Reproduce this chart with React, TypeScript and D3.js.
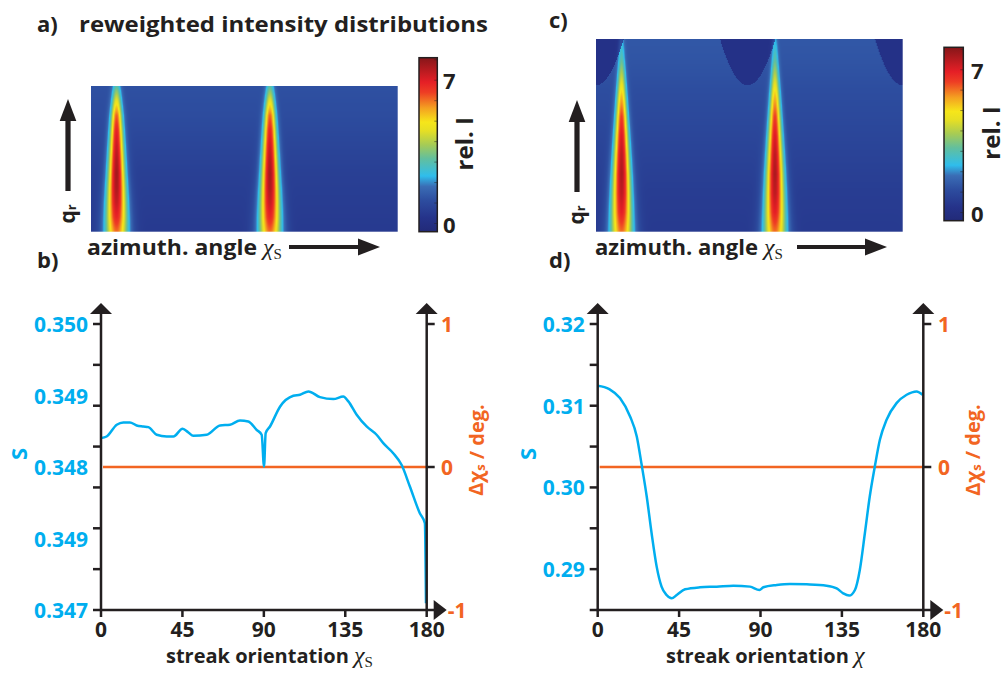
import React, { useMemo } from "react";
import * as d3 from "d3";

// ---------- data ----------
// panel b: streak orientation (deg) vs S
const bChi = [0, 3.1, 8.7, 12.3, 16, 19.7, 23.4, 26.2, 30.8, 36.3, 40, 45.1, 48.3, 51, 58.4, 65.8, 71.3, 76.8, 81.4, 86, 88.8, 90.1, 91, 93.4, 99, 106.3, 110, 114.6, 121, 128.4, 133.9, 136.7, 141.3, 146.8, 152.3, 156, 161.5, 166.1, 170.7, 176.2, 179, 179.6];
const bS = [0.348803, 0.34882, 0.348943, 0.348967, 0.348967, 0.348936, 0.348925, 0.348918, 0.348838, 0.34882, 0.34882, 0.348901, 0.348862, 0.348827, 0.348838, 0.348936, 0.348943, 0.348988, 0.348978, 0.34889, 0.348838, 0.348505, 0.348855, 0.348925, 0.349135, 0.349247, 0.349258, 0.349293, 0.349233, 0.349212, 0.34924, 0.349188, 0.349048, 0.348925, 0.348838, 0.34875, 0.348645, 0.348523, 0.348295, 0.348015, 0.34791, 0.34707];
const bLeftLabels = ["0.347", "0.349", "0.348", "0.349", "0.350"];

// panel d: streak orientation (deg) vs S
const dChi = [0, 6.4, 12.3, 17.9, 21.6, 24.3, 27.1, 29.8, 32.6, 35.3, 38.1, 40.9, 43.7, 48.3, 56.6, 65.8, 75, 84.2, 89.4, 91.6, 99, 106.3, 115.5, 126.5, 132.1, 135.7, 139, 142.2, 144.9, 147.7, 150.4, 153.2, 156, 159.7, 165.2, 170.8, 176.3, 179.6];
const dS = [0.31245, 0.31204, 0.31093, 0.30869, 0.30624, 0.30277, 0.29889, 0.29439, 0.29031, 0.28786, 0.28684, 0.28643, 0.28684, 0.28753, 0.28778, 0.28786, 0.28798, 0.28786, 0.28745, 0.28778, 0.28806, 0.28819, 0.28814, 0.28798, 0.28765, 0.28704, 0.28676, 0.28745, 0.2899, 0.29439, 0.29889, 0.30256, 0.30583, 0.30828, 0.31032, 0.31134, 0.31175, 0.31134];
const dLeftTicks = [0.285, 0.29, 0.295, 0.3, 0.305, 0.31, 0.315, 0.32];
const dLeftLabels = [0.29, 0.3, 0.31, 0.32];

const xTicks = [0, 45, 90, 135, 180];
const rightLabels = [1, 0, -1];

// heatmaps: streak positions (azimuth deg), row profiles over q (fraction from bottom)
const streakAzimuths = [30, 210];
const qFrac = [0, 0.1, 0.2, 0.3, 0.4, 0.5, 0.6, 0.7, 0.8, 0.9, 1.0];
const peakTopA = [6.0, 6.8, 7.3, 7.6, 7.7, 7.5, 7.2, 6.8, 6.1, 4.6, 3.0];
const sigmaA = [10, 9.3, 8.6, 7.9, 7.2, 6.6, 6.0, 5.4, 4.8, 4.2, 3.6];
const bgA = [0.5, 0.55, 0.6, 0.65, 0.7, 0.8, 0.9, 1.0, 1.1, 1.15, 1.2];
const peakTopC = [6.0, 6.9, 7.4, 7.6, 7.4, 7.0, 6.4, 5.4, 4.2, 3.0, 2.2];
const sigmaC = [10, 9, 8.2, 7.4, 6.6, 5.8, 5.0, 4.3, 3.6, 3.0, 2.5];
const bgC = [0.5, 0.55, 0.6, 0.7, 0.8, 0.9, 1.0, 1.1, 1.2, 1.3, 1.35];
const darkCentersC = [0, 178, 360];
const darkHalfWidthC = 32.5; // deg, at top edge
const darkDepthC = 0.24; // fraction of height from top
const darkValueC = 0.15;

// colour map (jet-like) stops
const cmapT = [0, 0.08, 0.18, 0.26, 0.32, 0.42, 0.5, 0.58, 0.63, 0.71, 0.8, 0.86, 1];
const cmapColors = ["#222a78", "#25338a", "#2d4d9f", "#3a6db5", "#2fbdec", "#62bf9e", "#a6cb55", "#e6df24", "#f6e61a", "#f4a121", "#ee3e24", "#e51f26", "#861619"];
const cbarDomain = [-0.4, 8.1];
const cbarLabels = [0, 7];

// ---------- styles ----------
const SANS = "'Open Sans', 'DejaVu Sans', sans-serif";
const SERIF = "'Liberation Serif', 'DejaVu Serif', serif";
const BLACK = "#231f20";
const BLUE = "#00aeef";
const ORANGE = "#f26522";

const valToT = d3.scaleLinear().domain(cbarDomain).range([0, 1]).clamp(true);
const colorScale = d3
  .scaleLinear<string>()
  .domain(cmapT)
  .range(cmapColors)
  .interpolate(d3.interpolateRgb)
  .clamp(true);

function makeHeatmap(W: number, H: number, top: number[], sig: number[], bg: number[], dark: boolean) {
  const canvas = document.createElement("canvas");
  canvas.width = W;
  canvas.height = H;
  const ctx = canvas.getContext("2d")!;
  const img = ctx.createImageData(W, H);
  const az = d3.scaleLinear().domain([0, W]).range([0, 360]);
  const qs = d3.scaleLinear().domain([0, H]).range([1, 0]);
  const topS = d3.scaleLinear().domain(qFrac).range(top);
  const sigS = d3.scaleLinear().domain(qFrac).range(sig);
  const bgS = d3.scaleLinear().domain(qFrac).range(bg);
  for (let j = 0; j < H; j++) {
    const q = qs(j + 0.5);
    const t = topS(q), s = sigS(q), b = bgS(q);
    for (let i = 0; i < W; i++) {
      const a = az(i + 0.5);
      let v = b;
      if (dark) {
        for (const c of darkCentersC) {
          const dx = (a - c) / darkHalfWidthC;
          const dy = (1 - q) / darkDepthC;
          if (dx * dx + dy < 1) v = darkValueC;
        }
      }
      for (const p of streakAzimuths) {
        let d = Math.abs(a - p);
        if (d > 180) d = 360 - d;
        v += (t - b) * Math.exp(-0.5 * (d / s) * (d / s));
      }
      const col = d3.rgb(colorScale(valToT(v)));
      const k = (j * W + i) * 4;
      img.data[k] = col.r;
      img.data[k + 1] = col.g;
      img.data[k + 2] = col.b;
      img.data[k + 3] = 255;
    }
  }
  ctx.putImageData(img, 0, 0);
  return canvas.toDataURL();
}

function Heatmap(props: { x: number; y: number; w: number; h: number; top: number[]; sig: number[]; bg: number[]; dark: boolean }) {
  const { x, y, w, h, top, sig, bg, dark } = props;
  const url = useMemo(() => makeHeatmap(Math.round(w), Math.round(h), top, sig, bg, dark), [w, h, top, sig, bg, dark]);
  return <image href={url} x={x} y={y} width={w} height={h} preserveAspectRatio="none" />;
}

function Colorbar(props: { id: string; x: number; y: number; w: number; h: number; labelX: number; titleX: number }) {
  const { id, x, y, w, h, labelX, titleX } = props;
  const s = d3.scaleLinear().domain(cbarDomain).range([y + h, y]);
  const ticks = d3.range(0, 9);
  return (
    <g>
      <defs>
        <linearGradient id={id} x1="0" y1="1" x2="0" y2="0">
          {cmapT.map((t, i) => (
            <stop key={i} offset={t} stopColor={cmapColors[i]} />
          ))}
        </linearGradient>
      </defs>
      <rect x={x} y={y} width={w} height={h} fill={`url(#${id})`} stroke={BLACK} strokeWidth={1.5} />
      {ticks.map((t) => (
        <line key={t} x1={x + w - 3} x2={x + w} y1={s(t)} y2={s(t)} stroke={BLACK} strokeOpacity={0.5} strokeWidth={1} />
      ))}
      {cbarLabels.map((v) => (
        <text key={v} x={labelX} y={s(v)} dominantBaseline="central" fontFamily={SANS} fontWeight={700} fontSize={22} fill={BLACK}>
          {v}
        </text>
      ))}
      <text
        transform={`translate(${titleX},${s(3.9)}) rotate(-90)`}
        textAnchor="middle"
        dominantBaseline="central"
        fontFamily={SANS}
        fontWeight={700}
        fontSize={24}
        fill={BLACK}
      >
        rel. I
      </text>
    </g>
  );
}

function HArrow(props: { x1: number; x2: number; y: number }) {
  const { x1, x2, y } = props;
  const head = 22;
  return (
    <g fill={BLACK}>
      <rect x={x1} y={y - 2} width={x2 - x1 - head + 1} height={4} />
      <path d={`M${x2 - head},${y - 8.5}L${x2},${y}L${x2 - head},${y + 8.5}Z`} />
    </g>
  );
}

function VArrow(props: { x: number; y1: number; y2: number }) {
  const { x, y1, y2 } = props;
  const head = 22;
  return (
    <g fill={BLACK}>
      <rect x={x - 2.6} y={y2 + head - 1} width={5.2} height={y1 - y2 - head + 1} />
      <path d={`M${x - 8.3},${y2 + head}L${x},${y2}L${x + 8.3},${y2 + head}Z`} />
    </g>
  );
}

function AzimuthLabel(props: { x: number; w: number; y: number }) {
  const { x, w, y } = props;
  return (
    <g>
      <text x={x} y={y} fontFamily={SANS} fontWeight={700} fontSize={21} fill={BLACK} textLength={w} lengthAdjust="spacingAndGlyphs">
        azimuth. angle
      </text>
      <text x={x + w + 6} y={y} fontFamily={SERIF} fontStyle="italic" fontSize={24} fill={BLACK}>
        χ<tspan fontStyle="normal" fontSize={15} dy={4}>S</tspan>
      </text>
    </g>
  );
}

function QLabel(props: { x: number; y: number }) {
  const { x, y } = props;
  return (
    <text transform={`translate(${x},${y}) rotate(-90)`} textAnchor="middle" dominantBaseline="central" fontFamily={SANS} fontWeight={700} fontSize={21} fill={BLACK}>
      q<tspan fontSize={13} dy={4}>r</tspan>
    </text>
  );
}

function LinePanel(props: {
  left: number;
  right: number;
  chi: number[];
  s: number[];
  yDomain: [number, number];
  leftTicks: number[];
  leftLabels: { v: number; text: string }[];
  sX: number;
  rightLabelX: number;
  xTitle: string;
  xTitleX: number;
  subscript: boolean;
}) {
  const top = 324, bottom = 610, tip = 303;
  const { left, right, chi, s, yDomain, leftTicks, leftLabels, sX, rightLabelX, xTitle, xTitleX, subscript } = props;
  const x = d3.scaleLinear().domain([0, 180]).range([left, right]);
  const yL = d3.scaleLinear().domain(yDomain).range([bottom, top]);
  const yR = d3.scaleLinear().domain([-1, 1]).range([bottom, top]);
  const line = d3
    .line<number>()
    .x((_, i) => x(chi[i]))
    .y((v) => yL(v))
    .curve(d3.curveMonotoneX);
  return (
    <g>
      <line x1={left + 2} x2={right} y1={yR(0)} y2={yR(0)} stroke={ORANGE} strokeWidth={2.5} />
      <path d={line(s) || ""} fill="none" stroke={BLUE} strokeWidth={2.5} strokeLinejoin="round" />
      <g stroke={BLACK} strokeWidth={2.5} fill="none">
        <line x1={left} x2={left} y1={bottom + 1} y2={tip + 10} />
        <line x1={right} x2={right} y1={bottom} y2={tip + 10} />
        <line x1={left - 1} x2={right + 8} y1={bottom} y2={bottom} />
        {leftTicks.map((v) => (
          <line key={v} x1={left - 8} x2={left} y1={yL(v)} y2={yL(v)} />
        ))}
        {xTicks.map((v) => (
          <line key={v} x1={x(v)} x2={x(v)} y1={bottom} y2={bottom + 7} />
        ))}
        {[1, 0].map((v) => (
          <line key={v} x1={right} x2={right + 8} y1={yR(v)} y2={yR(v)} />
        ))}
      </g>
      <g fill={BLACK}>
        <path d={`M${left - 11},${tip + 11}L${left},${tip}L${left + 11},${tip + 11}Z`} />
        <path d={`M${right - 11},${tip + 11}L${right},${tip}L${right + 11},${tip + 11}Z`} />
        <path d={`M${right + 7},${bottom - 10}L${right + 20},${bottom}L${right + 7},${bottom + 10}Z`} />
      </g>
      {leftLabels.map((l, i) => (
        <text key={i} x={left - 13} y={yL(l.v)} textAnchor="end" dominantBaseline="central" fontFamily={SANS} fontWeight={700} fontSize={21} fill={BLUE}>
          {l.text}
        </text>
      ))}
      {rightLabels.map((v) => (
        <text key={v} x={v === -1 ? right + 21 : rightLabelX} y={yR(v)} dominantBaseline="central" fontFamily={SANS} fontWeight={700} fontSize={21} fill={ORANGE}>
          {v}
        </text>
      ))}
      {xTicks.map((v) => (
        <text key={v} x={x(v)} y={637} textAnchor="middle" fontFamily={SANS} fontWeight={700} fontSize={21} fill={BLACK}>
          {v}
        </text>
      ))}
      <text x={xTitleX} y={663} fontFamily={SANS} fontWeight={700} fontSize={20} fill={BLACK}>
        {xTitle}{" "}
        <tspan fontFamily={SERIF} fontStyle="italic" fontWeight={400} fontSize={24}>χ</tspan>
        {subscript ? (
          <tspan fontFamily={SERIF} fontWeight={400} fontSize={15} dy={4}>S</tspan>
        ) : null}
      </text>
      <text transform={`translate(${sX},454) rotate(-90)`} textAnchor="middle" dominantBaseline="central" fontFamily={SANS} fontWeight={700} fontSize={22} fill={BLUE}>
        S
      </text>
      <text transform={`translate(${right + 49},450) rotate(-90)`} textAnchor="middle" dominantBaseline="central" fontFamily={SANS} fontWeight={700} fontSize={20} fill={ORANGE}>
        Δχ<tspan fontSize={13} dy={4}>s</tspan>
        <tspan dy={-4}> / deg.</tspan>
      </text>
    </g>
  );
}

export default function App() {
  const bLabels = bLeftLabels.map((t, i) => ({ v: 0.347 + i * 0.00075, text: t }));
  const bTicks = d3.range(8).map((i) => 0.347 + (i * 0.003) / 7);
  const dLabels = dLeftLabels.map((v) => ({ v, text: d3.format(".2f")(v) }));
  return (
    <svg width={1005} height={677} style={{ display: "block", position: "absolute", left: 0, top: 0, background: "#fff" }}>
      <text x={37} y={32} fontFamily={SANS} fontWeight={700} fontSize={22} fill={BLACK}>a)</text>
      <text x={79} y={32} fontFamily={SANS} fontWeight={700} fontSize={22} fill={BLACK} textLength={409} lengthAdjust="spacingAndGlyphs">
        reweighted intensity distributions
      </text>
      <text x={37} y={268} fontFamily={SANS} fontWeight={700} fontSize={22} fill={BLACK}>b)</text>
      <text x={549} y={28} fontFamily={SANS} fontWeight={700} fontSize={22} fill={BLACK}>c)</text>
      <text x={549} y={268} fontFamily={SANS} fontWeight={700} fontSize={22} fill={BLACK}>d)</text>

      {/* panel a */}
      <Heatmap x={91} y={86} w={306.7} h={145.7} top={peakTopA} sig={sigmaA} bg={bgA} dark={false} />
      <Colorbar id="cbA" x={419} y={57.7} w={18.3} h={174} labelX={443} titleX={463} />
      <VArrow x={68} y1={191} y2={99} />
      <QLabel x={67} y={214} />
      <AzimuthLabel x={87} w={170} y={255} />
      <HArrow x1={289} x2={380} y={247} />

      {/* panel c */}
      <Heatmap x={596} y={39} w={306.7} h={192.7} top={peakTopC} sig={sigmaC} bg={bgC} dark={true} />
      <Colorbar id="cbC" x={944} y={47.3} w={19.3} h={173.4} labelX={971} titleX={990} />
      <VArrow x={577} y1={192} y2={100} />
      <QLabel x={576} y={215} />
      <AzimuthLabel x={595} w={163} y={255} />
      <HArrow x1={797} x2={887} y={247} />

      {/* panel b */}
      <LinePanel
        left={101}
        right={426.7}
        chi={bChi}
        s={bS}
        yDomain={[0.347, 0.35]}
        leftTicks={bTicks}
        leftLabels={bLabels}
        sX={17.5}
        rightLabelX={441}
        xTitle="streak orientation"
        xTitleX={166}
        subscript={true}
      />
      {/* panel d */}
      <LinePanel
        left={597.7}
        right={923.3}
        chi={dChi}
        s={dS}
        yDomain={[0.285, 0.32]}
        leftTicks={dLeftTicks}
        leftLabels={dLabels}
        sX={527}
        rightLabelX={938}
        xTitle="streak orientation"
        xTitleX={666}
        subscript={false}
      />
    </svg>
  );
}
